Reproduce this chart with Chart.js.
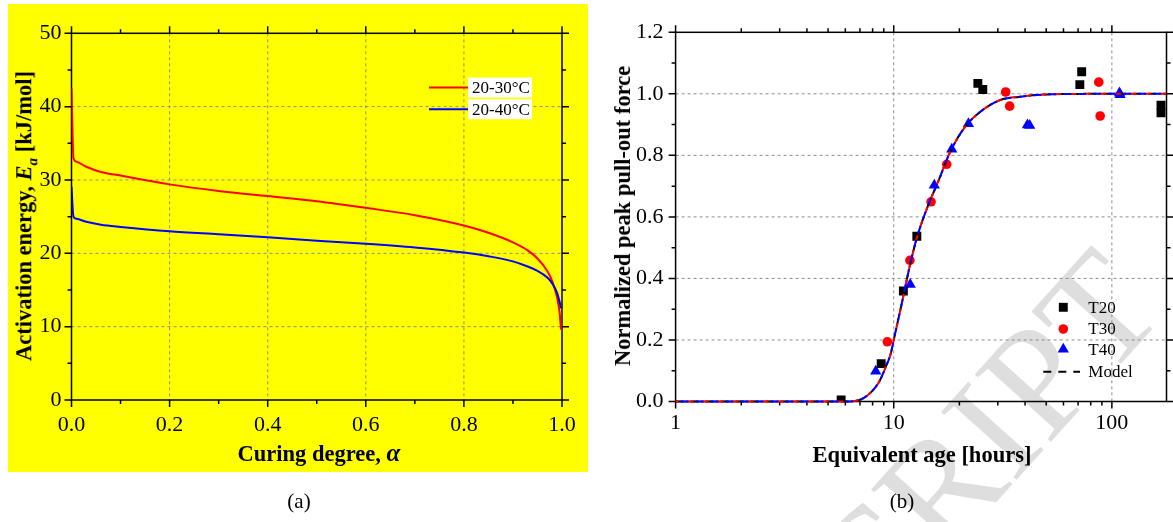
<!DOCTYPE html>
<html>
<head>
<meta charset="utf-8">
<script src="https://cdn.jsdelivr.net/npm/chart.js@4.4.0/dist/chart.umd.min.js"></script>
<style>
  body { margin: 0; background: #fff; width: 1173px; height: 522px; overflow: hidden; position: relative;
         font-family: "Liberation Serif", "Times New Roman", serif; color: #000; }
  #panelA { position: absolute; left: 8px; top: 4px; width: 580px; height: 468px; background: #ffff00; }
  #panelB { position: absolute; left: 600px; top: 0; width: 573px; height: 480px; }
  .title { position: absolute; font-weight: bold; font-size: 22.5px; white-space: nowrap; transform: translate(-50%, -50%); }
  .ytitle { transform: translate(-50%, -50%) rotate(-90deg); }
  .cap { position: absolute; font-size: 21px; transform: translate(-50%, -50%); }
  #mark { position: absolute; left: 983px; top: 440px; font-size: 155px; color: #dedede;
          transform: translate(-50%, -50%) rotate(-48deg); white-space: nowrap; }
</style>
</head>
<body>
<div id="mark">CRIPT</div>
<div id="panelA"><canvas id="chartA" width="580" height="468"></canvas></div>
<div id="panelB"><canvas id="chartB" width="573" height="480"></canvas></div>

<div class="title ytitle" style="left:26px; top:216px;">Activation energy, <i>E<sub style="font-size:15px">a</sub></i> [kJ/mol]</div>
<div class="title" style="left:319px; top:453px;">Curing degree, <i style="font-size:25px">α</i></div>
<div class="title ytitle" style="left:623px; top:216px;">Normalized peak pull-out force</div>
<div class="title" style="left:922px; top:455px;">Equivalent age [hours]</div>
<div class="cap" style="left:299px; top:501px;">(a)</div>
<div class="cap" style="left:902px; top:501px;">(b)</div>

<script>
// (a) activation energy against curing degree
const alpha  = [0, 0.004, 0.01, 0.03, 0.06, 0.1, 0.2, 0.3, 0.4, 0.5, 0.6, 0.7, 0.8, 0.85, 0.9, 0.93, 0.95, 0.97, 0.98, 0.99, 0.995, 0.998];
const ea2030 = [42.5, 33.0, 32.5, 31.8, 31.1, 30.6, 29.4, 28.5, 27.8, 27.1, 26.2, 25.2, 23.8, 22.8, 21.5, 20.4, 19.3, 17.6, 16.2, 14.0, 12.0, 9.6];
const ea2040 = [29.1, 25.0, 24.7, 24.3, 23.9, 23.6, 23.0, 22.6, 22.2, 21.7, 21.3, 20.8, 20.1, 19.6, 18.9, 18.2, 17.6, 16.7, 15.9, 14.6, 13.4, 12.5];
const xTicksA = [0, 0.2, 0.4, 0.6, 0.8, 1.0];
const xMinorA = [0.1, 0.3, 0.5, 0.7, 0.9];
const yTicksA = [0, 10, 20, 30, 40, 50];
const yMinorA = [5, 15, 25, 35, 45];

// (b) normalized pull-out force against equivalent age
const t20Age   = [5.74, 8.76, 11.07, 12.76, 24.3, 25.6, 71.3, 72.7, 168, 168];
const t20Force = [0.005, 0.123, 0.359, 0.537, 1.034, 1.014, 1.030, 1.072, 0.963, 0.938];
const t30Age   = [9.35, 11.86, 14.83, 17.5, 32.6, 34.0, 87.1, 88.4];
const t30Force = [0.194, 0.459, 0.649, 0.771, 1.006, 0.960, 1.038, 0.928];
const t40Age   = [8.27, 11.9, 15.35, 18.45, 22.0, 41.0, 42.0, 108.4, 109];
const t40Force = [0.098, 0.380, 0.703, 0.820, 0.903, 0.899, 0.897, 1.003, 0.997];
const modelAge   = [1, 2, 4, 6, 6.9, 7.7, 8.6, 9.2, 9.7, 10.0, 10.95, 11.9, 12.8, 14.3, 16.1, 18.0, 21.0, 25.5, 30.8, 37.4, 55, 100, 178];
const modelForce = [0, 0, 0, 0, 0.004, 0.024, 0.066, 0.113, 0.157, 0.2, 0.327, 0.447, 0.535, 0.633, 0.72, 0.806, 0.888, 0.947, 0.98, 0.99, 0.999, 1.0, 1.0];
const xTicksB = [1, 10, 100];
const xMinorB = [2, 3, 4, 5, 6, 7, 8, 9, 20, 30, 40, 50, 60, 70, 80, 90];
const yTicksB = [0, 0.2, 0.4, 0.6, 0.8, 1.0, 1.2];
const yMinorB = [0.1, 0.3, 0.5, 0.7, 0.9, 1.1];

const serif = '"Liberation Serif", "Times New Roman", serif';

function pts(xs, ys) {
  return xs.map((v, i) => ({ x: v, y: ys[i] }));
}

// dashed grid, box frame and outward ticks on all four sides
const frame = {
  id: 'frame',
  beforeDatasetsDraw(chart, args, o) {
    const { ctx, chartArea: a } = chart;
    const x = chart.scales.x, y = chart.scales.y;
    ctx.save();
    ctx.lineWidth = 1;
    ctx.strokeStyle = '#8c8c8c';
    ctx.setLineDash([3, 3]);
    ctx.beginPath();
    o.xMajor.forEach(v => {
      const p = x.getPixelForValue(v);
      if (p > a.left + 2 && p < a.right - 2) { ctx.moveTo(p, a.top); ctx.lineTo(p, a.bottom); }
    });
    o.yMajor.forEach(v => {
      const p = y.getPixelForValue(v);
      if (p > a.top + 2 && p < a.bottom - 2) { ctx.moveTo(a.left, p); ctx.lineTo(a.right, p); }
    });
    ctx.stroke();
    ctx.setLineDash([]);
    ctx.strokeStyle = '#000';
    ctx.lineWidth = 1.5;
    ctx.strokeRect(a.left, a.top, a.width, a.height);
    ctx.beginPath();
    const xt = (vals, len) => vals.forEach(v => {
      const p = x.getPixelForValue(v);
      ctx.moveTo(p, a.bottom); ctx.lineTo(p, a.bottom + len);
      ctx.moveTo(p, a.top); ctx.lineTo(p, a.top - len);
    });
    const yt = (vals, len) => vals.forEach(v => {
      const p = y.getPixelForValue(v);
      ctx.moveTo(a.left, p); ctx.lineTo(a.left - len, p);
      ctx.moveTo(a.right, p); ctx.lineTo(a.right + len, p);
    });
    xt(o.xMajor, 7); xt(o.xMinor, 4);
    yt(o.yMajor, 7); yt(o.yMinor, 4);
    ctx.stroke();
    ctx.restore();
  }
};

// legend drawn inside the plot like the original
const key = {
  id: 'key',
  afterDraw(chart, args, o) {
    const ctx = chart.ctx;
    ctx.save();
    ctx.font = '17px ' + serif;
    ctx.textBaseline = 'middle';
    o.rows.forEach((r, i) => {
      const ds = chart.data.datasets[r.ds];
      const yy = o.y[i];
      if (o.box) {
        ctx.fillStyle = '#fff';
        ctx.fillRect(o.textX - 4, yy - 10, o.boxW, 20);
      }
      if (r.line) {
        ctx.strokeStyle = ds.borderColor;
        ctx.lineWidth = 2;
        ctx.setLineDash(r.dash || []);
        ctx.beginPath();
        ctx.moveTo(o.lineX0, yy); ctx.lineTo(o.lineX1, yy);
        ctx.stroke();
        ctx.setLineDash([]);
      } else {
        ctx.fillStyle = ds.backgroundColor;
        ctx.strokeStyle = ds.backgroundColor;
        Chart.helpers.drawPoint(ctx, { pointStyle: ds.pointStyle, radius: ds.pointRadius, borderWidth: 0, rotation: 0 }, o.markX, yy);
      }
      ctx.fillStyle = '#000';
      ctx.fillText(ds.label, o.textX, yy + 1);
    });
    ctx.restore();
  }
};

const tickFont = { family: serif, size: 22 };
const noGrid = { display: false, drawTicks: false };

new Chart(document.getElementById('chartA'), {
  type: 'line',
  data: {
    datasets: [
      { label: '20-40°C', data: pts(alpha, ea2040), borderColor: '#0000ff', borderWidth: 2, pointRadius: 0, cubicInterpolationMode: 'monotone' },
      { label: '20-30°C', data: pts(alpha, ea2030), borderColor: '#ff0000', borderWidth: 2, pointRadius: 0, cubicInterpolationMode: 'monotone' }
    ]
  },
  options: {
    responsive: false,
    animation: false,
    layout: { padding: { top: 29.3, right: 26, left: 0, bottom: 0 } },
    plugins: {
      legend: { display: false },
      tooltip: { enabled: false },
      frame: { xMajor: xTicksA, xMinor: xMinorA, yMajor: yTicksA, yMinor: yMinorA },
      key: { rows: [{ ds: 1, line: true }, { ds: 0, line: true }], y: [83.5, 105.2], lineX0: 421, lineX1: 460, textX: 464, boxW: 64, box: true }
    },
    scales: {
      x: {
        type: 'linear', min: 0, max: 1,
        grid: noGrid, border: { display: false },
        afterBuildTicks: s => { s.ticks = xTicksA.map(v => ({ value: v })); },
        afterFit: s => { s.height = 72; },
        ticks: { padding: 12, color: '#000', font: tickFont, maxRotation: 0, autoSkip: false, callback: v => v.toFixed(1) }
      },
      y: {
        min: 0, max: 50,
        grid: noGrid, border: { display: false },
        afterBuildTicks: s => { s.ticks = yTicksA.map(v => ({ value: v })); },
        afterFit: s => { s.width = 63.5; },
        ticks: { padding: 10, color: '#000', font: tickFont, callback: v => String(v) }
      }
    }
  },
  plugins: [frame, key]
});

const modelBase = { data: pts(modelAge, modelForce), showLine: true, pointRadius: 0, borderWidth: 2, cubicInterpolationMode: 'monotone', clip: false };

new Chart(document.getElementById('chartB'), {
  type: 'scatter',
  data: {
    datasets: [
      Object.assign({ label: 'Model', borderColor: '#0000ff', borderDash: [8, 7], borderDashOffset: 10 }, modelBase),
      Object.assign({ label: 'Model', borderColor: '#ff0000', borderDash: [8, 7], borderDashOffset: 5 }, modelBase),
      Object.assign({ label: 'Model', borderColor: '#000000', borderDash: [8, 7], borderDashOffset: 0 }, modelBase),
      { label: 'T20', data: pts(t20Age, t20Force), pointStyle: 'rect', pointRadius: 6.3, backgroundColor: '#000000', borderWidth: 0 },
      { label: 'T30', data: pts(t30Age, t30Force), pointStyle: 'circle', pointRadius: 4.8, backgroundColor: '#ff0000', borderWidth: 0 },
      { label: 'T40', data: pts(t40Age, t40Force), pointStyle: 'triangle', pointRadius: 6.5, backgroundColor: '#0000ff', borderWidth: 0 }
    ]
  },
  options: {
    responsive: false,
    animation: false,
    layout: { padding: { top: 32.3, right: 4.1, left: 0, bottom: 0 } },
    plugins: {
      legend: { display: false },
      tooltip: { enabled: false },
      frame: { xMajor: xTicksB, xMinor: xMinorB, yMajor: yTicksB, yMinor: yMinorB },
      key: { rows: [{ ds: 3 }, { ds: 4 }, { ds: 5 }, { ds: 2, line: true, dash: [8, 7] }], y: [307.3, 329, 349.3, 371.7], markX: 463.3, lineX0: 443.3, lineX1: 480, textX: 488.3 }
    },
    scales: {
      x: {
        type: 'logarithmic', min: 1, max: 178,
        grid: noGrid, border: { display: false },
        afterBuildTicks: s => { s.ticks = xTicksB.map(v => ({ value: v })); },
        afterFit: s => { s.height = 78.5; },
        ticks: { padding: 9, color: '#000', font: tickFont, maxRotation: 0, autoSkip: false, callback: v => String(v) }
      },
      y: {
        min: 0, max: 1.2,
        grid: noGrid, border: { display: false },
        afterBuildTicks: s => { s.ticks = yTicksB.map(v => ({ value: v })); },
        afterFit: s => { s.width = 75.6; },
        ticks: { padding: 12, color: '#000', font: tickFont, callback: v => v.toFixed(1) }
      }
    }
  },
  plugins: [frame, key]
});
</script>
</body>
</html>
